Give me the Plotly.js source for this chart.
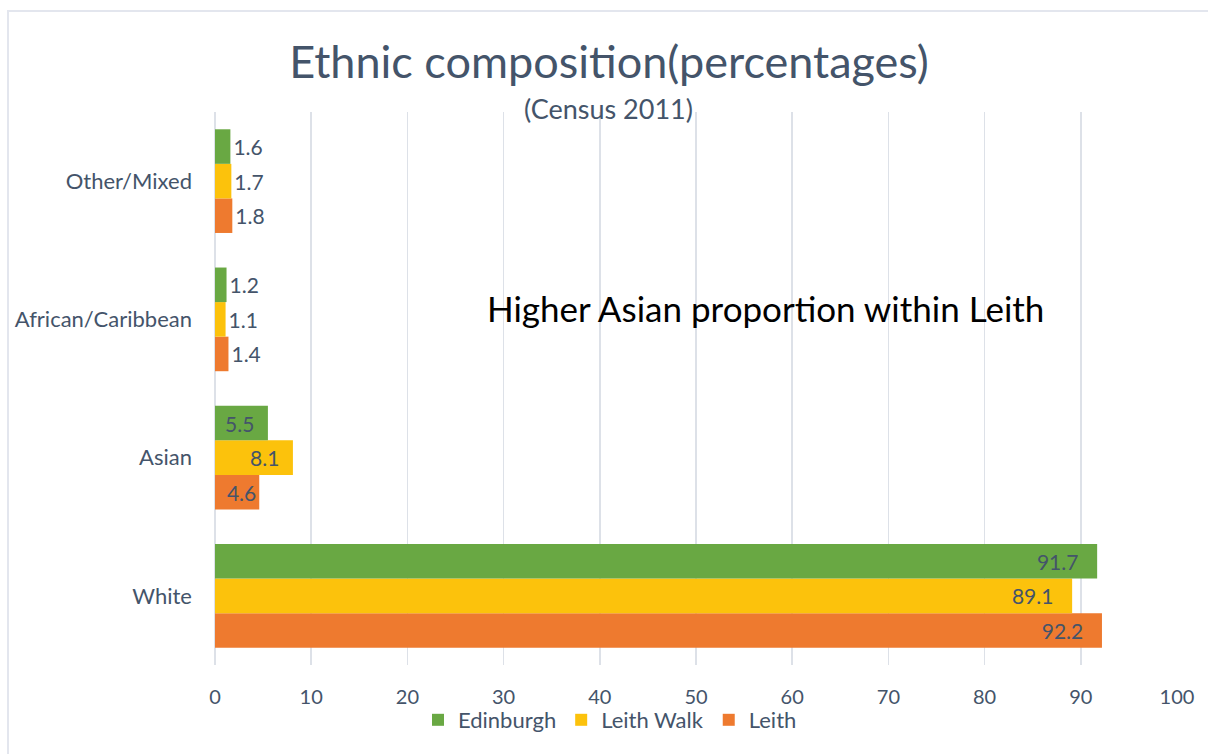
<!DOCTYPE html>
<html>
<head>
<meta charset="utf-8">
<script src="https://cdn.plot.ly/plotly-3.0.1.min.js"></script>
<style>
  body { margin: 0; padding: 0; background: #fff; overflow: hidden; }
  #chart { position: absolute; left: 0; top: 0; width: 1208px; height: 754px; }
  #frame { position: absolute; left: 7px; top: 10px; width: 1300px; height: 800px;
           border-left: 2px solid #e3e6ee; border-top: 2px solid #e3e6ee; pointer-events: none; }
</style>
</head>
<body>
<div id="chart"></div>
<div id="frame"></div>
<script>
const categories = ["White", "Asian", "African/Caribbean", "Other/Mixed"];
const edinburgh = [91.7, 5.5, 1.2, 1.6];
const leithWalk = [89.1, 8.1, 1.1, 1.7];
const leith = [92.2, 4.6, 1.4, 1.8];
const xTicks = [0, 10, 20, 30, 40, 50, 60, 70, 80, 90, 100];

const textColor = "#44546a";
const fontFam = "Lato, 'Open Sans', sans-serif";

const L = 215, R = 1177, T = 112, B = 665;
function px(x) { return (x - L) / (R - L); }
function py(y) { return (B - y) / (B - T); }

function pos(vals) { return vals.map(v => v > 3 ? "inside" : "outside"); }
function pad(v) { return v > 50 ? "\u2003" : (v > 5 ? "\u2002" : ""); }

function mk(name, vals, color) {
  return {
    type: "bar", orientation: "h", name: name,
    y: categories, x: vals,
    marker: { color: color },
    text: vals.map(v => v.toFixed(1) + pad(v)),
    textposition: pos(vals),
    insidetextanchor: "end",
    textfont: { family: fontFam, size: 21, color: textColor },
    outsidetextfont: { family: fontFam, size: 21, color: textColor },
    insidetextfont: { family: fontFam, size: 21, color: textColor },
    cliponaxis: false,
    constraintext: "none",
    hoverinfo: "x+name"
  };
}

const data = [
  mk("Leith", leith, "#ee7a2f"),
  mk("Leith Walk", leithWalk, "#fcc20c"),
  mk("Edinburgh", edinburgh, "#69a843")
];

const layout = {
  width: 1208, height: 754,
  margin: { l: L, r: 1208 - R, t: T, b: 754 - B },
  paper_bgcolor: "#ffffff", plot_bgcolor: "#ffffff",
  barmode: "group", bargap: 0.25, bargroupgap: 0,
  font: { family: fontFam, color: textColor },
  title: {
    text: "Ethnic composition(percentages)",
    font: { family: fontFam, size: 45, color: textColor },
    x: 609 / 1208, xanchor: "center", xref: "container",
    y: 1 - 62 / 754, yanchor: "middle", yref: "container"
  },
  xaxis: {
    range: [0, 100], tickvals: xTicks, ticktext: xTicks.map(String),
    showgrid: true, gridcolor: "#dde1e8", gridwidth: 1.5,
    zeroline: true, zerolinecolor: "#dde1e8", zerolinewidth: 1.5,
    showline: false, ticks: "",
    tickfont: { family: fontFam, size: 20, color: textColor },
    ticklabelstandoff: 18,
    fixedrange: true
  },
  yaxis: {
    categoryorder: "array", categoryarray: categories,
    showgrid: false, zeroline: false, showline: false, ticks: "",
    tickfont: { family: fontFam, size: 22, color: textColor },
    ticklabelstandoff: 22,
    fixedrange: true
  },
  legend: {
    orientation: "h", traceorder: "reversed",
    x: px(610), xanchor: "center", y: py(720), yanchor: "middle",
    bgcolor: "rgba(0,0,0,0)",
    font: { family: fontFam, size: 22, color: textColor },
    itemwidth: 30
  },
  annotations: [
    {
      text: "(Census 2011)", xref: "paper", yref: "paper",
      x: px(608), y: py(108), xanchor: "center", yanchor: "middle",
      showarrow: false, font: { family: fontFam, size: 27, color: textColor }
    },
    {
      text: "Higher Asian proportion within Leith", xref: "paper", yref: "paper",
      x: px(765), y: py(308), xanchor: "center", yanchor: "middle",
      showarrow: false, font: { family: fontFam, size: 35, color: "#000000" }
    }
  ]
};

Plotly.newPlot("chart", data, layout, { displayModeBar: false, staticPlot: true });
</script>
</body>
</html>
